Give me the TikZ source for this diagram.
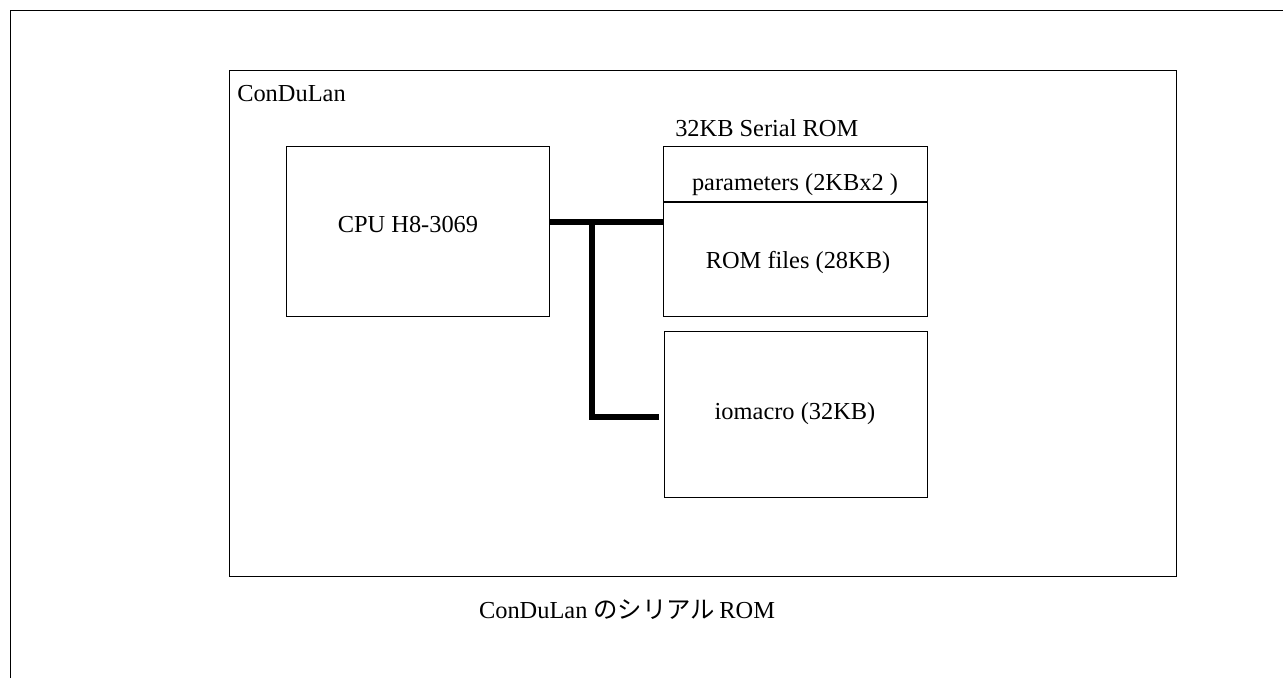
\documentclass[tikz,border=0pt]{standalone}
\usepackage{fontspec}
\setmainfont{Liberation Serif}
\newfontfamily\cjk{Noto Sans CJK JP}
\begin{document}
\begin{tikzpicture}[x=0.75pt,y=-0.75pt,
  box/.style={draw,line width=0.9pt,inner sep=0pt,anchor=north west},
  lbl/.style={font=\fontsize{18.3}{21}\selectfont,inner sep=0pt,anchor=base},
  bus/.style={line width=5.2pt}]
\useasboundingbox (0,0) rectangle (1284,678);
% outer frame
\coordinate (tl) at (10.5,10.5);
\coordinate (tr) at (1283,10.5);
\coordinate (bl) at (10.5,678);
\draw[line width=1.1pt] (bl) -- (tl) -- (tr);
% ConDuLan box
\node[box,minimum width=947*0.75pt,minimum height=506*0.75pt] (cdl) at (229,70) {};
\node[lbl,anchor=base west] (cdlt) at (237,101) {ConDuLan};
% CPU
\node[box,minimum width=263*0.75pt,minimum height=170*0.75pt] (cpu) at (286,146) {};
\node[lbl] (cput) at (408,232) {CPU H8-3069};
% ROM
\node[box,minimum width=264*0.75pt,minimum height=170*0.75pt] (rom) at (663,146) {};
\node[lbl,anchor=base west] (romt) at (675,136) {32KB Serial ROM};
\coordinate (divl) at (663,202);
\coordinate (divr) at (927,202);
\draw[line width=0.9pt] (divl) -- (divr);
\node[lbl] (par) at (795,190) {parameters (2KBx2 )};
\node[lbl] (romf) at (798,268) {ROM files (28KB)};
% iomacro
\node[box,minimum width=263*0.75pt,minimum height=166*0.75pt] (io) at (664,331) {};
\node[lbl] (iot) at (795,419) {iomacro (32KB)};
% bus
\coordinate (j) at (592,222);
\coordinate (k) at (659,417);
\draw[bus] (cpu.east |- j) -- (rom.west |- j);
\draw[bus] (j) |- (k);
% caption
\node[lbl] (cap) at (627,618) {ConDuLan {\cjk のシリアル}\,ROM};
\end{tikzpicture}
\end{document}
